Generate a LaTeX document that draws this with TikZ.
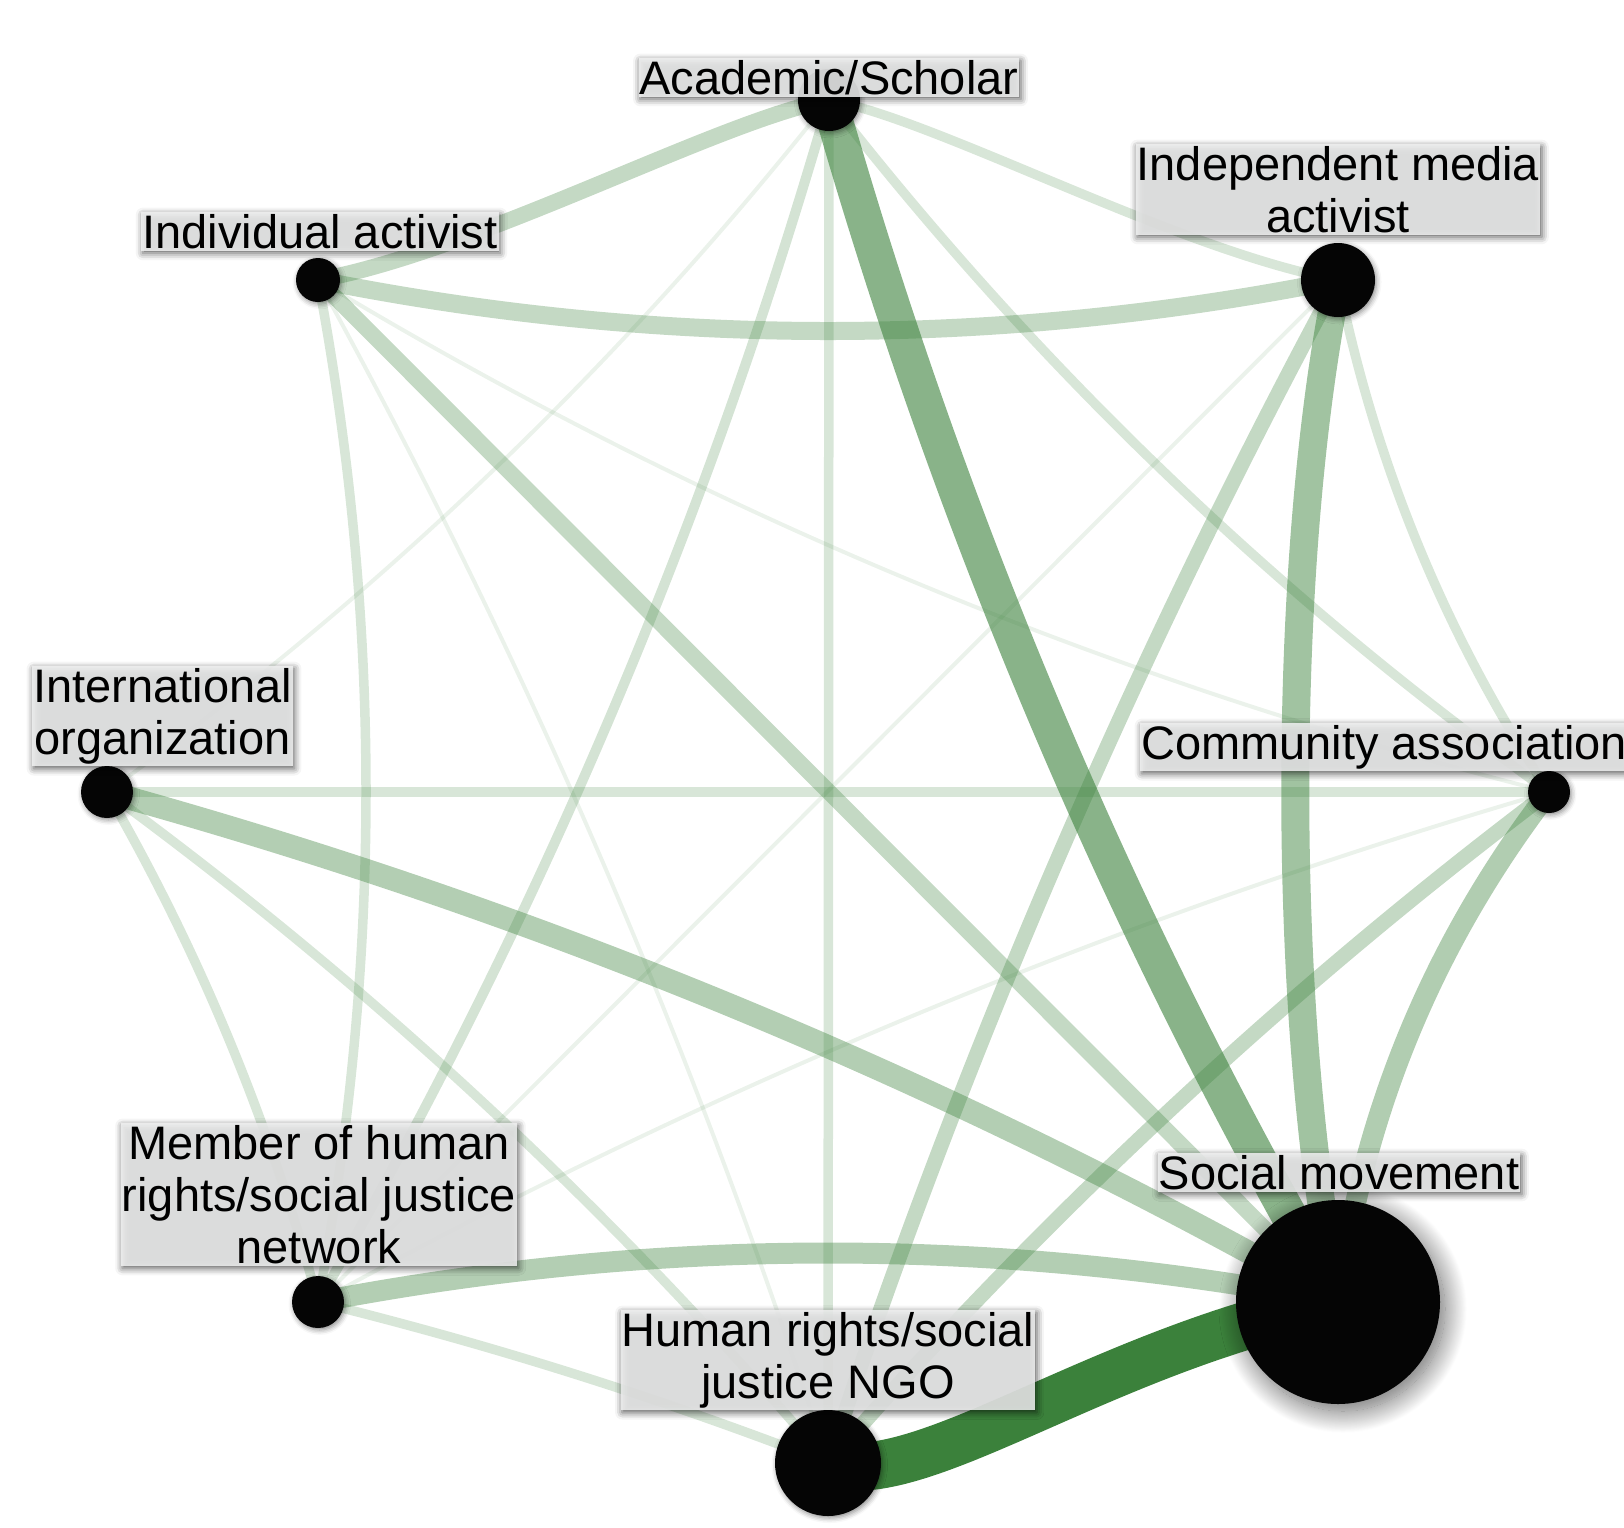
\documentclass[tikz,border=0pt]{standalone}
\usepackage{fontspec}
\setmainfont{Liberation Sans}
\usetikzlibrary{shadows.blur,calc}
\definecolor{eg}{RGB}{59,129,59}
\definecolor{lblfill}{RGB}{240,241,241}
\definecolor{nodeblack}{RGB}{5,5,5}
% quadratic-style curve: #2 start, #3 quadratic control, #4 end
\newcommand{\qlink}[4][]{\draw[#1] (#2) .. controls ($(#2)!0.6667!(#3)$) and ($(#4)!0.6667!(#3)$) .. (#4);}
\begin{document}
\begin{tikzpicture}[x=1pt,y=-1pt,
  hub/.style={circle, inner sep=0pt, minimum size=#1},
  smallshadow/.style={blur shadow={shadow xshift=1.5pt, shadow yshift=-2pt, shadow blur radius=5pt, shadow opacity=45}},
  bigshadow/.style={blur shadow={shadow xshift=5pt, shadow yshift=-7pt, shadow blur radius=22pt, shadow blur steps=30, shadow opacity=60}},
  lbl/.style={fill=lblfill, fill opacity=0.86, text opacity=1, inner xsep=1pt, inner ysep=2pt,
    align=center, font=\fontsize{47pt}{52pt}\selectfont,
    blur shadow={shadow xshift=1.5pt, shadow yshift=-2.5pt, shadow blur radius=7pt, shadow opacity=75}},
  link/.style 2 args={draw=eg, line width=#1, draw opacity=#2},
  linkFaint/.style={link={4pt}{0.1}},
  linkLight/.style={link={9.5pt}{0.2}},
  linkMed/.style={link={16pt}{0.3}},
]
\useasboundingbox (0,0) rectangle (1624,1527);

% vertices (named, placed first)
\node[hub=62pt] (A) at (829,100) {};
\node[hub=74pt] (IM) at (1338,280) {};
\node[hub=44pt] (IA) at (318,280) {};
\node[hub=52pt] (IO) at (107,792) {};
\node[hub=42pt] (CA) at (1549,792) {};
\node[hub=52pt] (M) at (318,1302) {};
\node[hub=106pt] (NGO) at (828,1463) {};
\node[hub=204pt] (SM) at (1338,1302) {};

% connectors
% faint
\qlink[linkFaint]{IO.center}{516,497}{A.center}
\qlink[linkFaint]{IA.center}{630,847}{NGO.center}
\qlink[linkFaint]{IA.center}{895,628}{CA.center}
\draw[linkFaint] (IM.center) -- (M.center);
\qlink[linkFaint]{CA.center}{903,980}{M.center}
% light
\draw[linkLight] (IM.center) .. controls (1176,250) and (938,120) .. (A.center);
\qlink[linkLight]{A.center}{1139,498}{CA.center}
\qlink[linkLight, line width=10pt, draw opacity=0.22]{A.center}{647,732}{M.center}
\draw[linkLight] (A.center) -- (NGO.center);
\qlink[linkLight]{IA.center}{414,791}{M.center}
\qlink[linkLight]{IM.center}{1394,557}{CA.center}
\draw[linkLight] (IO.center) -- (CA.center);
\qlink[linkLight]{IO.center}{246,1033}{M.center}
\qlink[linkLight]{IO.center}{507,1085}{NGO.center}
\qlink[linkLight]{M.center}{578,1366}{NGO.center}
% medium
\draw[linkMed] (IA.center) .. controls (480,250) and (720,120) .. (A.center);
\qlink[linkMed, line width=18pt]{IA.center}{828,382}{IM.center}
\draw[linkMed] (IA.center) -- (SM.center);
\qlink[linkMed, line width=15pt]{IM.center}{1031,849}{NGO.center}
\qlink[linkMed, line width=15pt]{CA.center}{1154,1090}{NGO.center}
% strong
\qlink[link={23pt}{0.39}]{IO.center}{754,970}{SM.center}
\qlink[link={21pt}{0.4}]{CA.center}{1375,1019}{SM.center}
\qlink[link={21pt}{0.39}]{M.center}{828,1204}{SM.center}
\draw[link={28pt}{0.48}] (IM.center) .. controls (1281,560) and (1281,1020) .. (SM.center);
\qlink[link={36pt}{0.6}]{A.center}{1010,735}{SM.center}
\draw[link={48pt}{1}] (NGO.center) .. controls (920,1492) and (1100,1350) .. (SM.center);

% discs drawn over the connectors
\fill[nodeblack, smallshadow] (A.center) circle[radius=31pt];
\fill[nodeblack, smallshadow] (IM.center) circle[radius=37pt];
\fill[nodeblack, smallshadow] (IA.center) circle[radius=22pt];
\fill[nodeblack, smallshadow] (IO.center) circle[radius=26pt];
\fill[nodeblack, smallshadow] (CA.center) circle[radius=21pt];
\fill[nodeblack, smallshadow] (M.center) circle[radius=26pt];
\fill[nodeblack, smallshadow] (NGO.center) circle[radius=53pt];
\fill[nodeblack, bigshadow] (SM.center) circle[radius=102pt];

% labels
\node[lbl, anchor=north] (lA) at (829,58) {Academic/Scholar};
\node[lbl, anchor=north] (lIM) at (1338,144) {Independent media\\activist};
\node[lbl, anchor=north] (lIA) at (320,212) {Individual activist};
\node[lbl, anchor=north west] (lIO) at (32,666) {International\\organization};
\node[lbl, anchor=north west] (lCA) at (1140,723) {Community association};
\node[lbl, anchor=north] (lM) at (319,1123) {Member of human\\rights/social justice\\network};
\node[lbl, anchor=north] (lNGO) at (828,1310) {Human rights/social\\justice NGO};
\node[lbl, anchor=north] (lSM) at (1339,1153) {Social movement};
\end{tikzpicture}
\end{document}
